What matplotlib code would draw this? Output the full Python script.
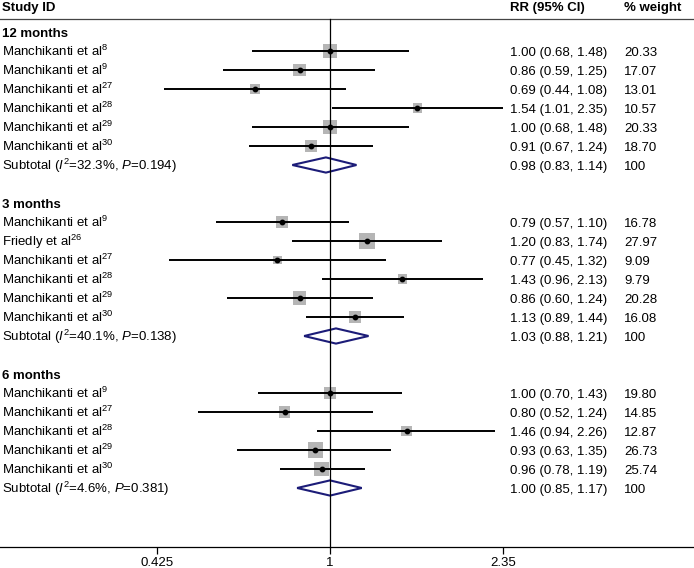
import numpy as np
import matplotlib
matplotlib.use("Agg")
import matplotlib.pyplot as plt
from matplotlib.patches import Polygon
from matplotlib.transforms import offset_copy

plt.rcParams['font.family'] = ['Liberation Sans', 'DejaVu Sans']
plt.rcParams['mathtext.fontset'] = 'custom'
plt.rcParams['mathtext.rm'] = 'Liberation Sans'
plt.rcParams['mathtext.it'] = 'Liberation Sans:italic'
plt.rcParams['mathtext.bf'] = 'Liberation Sans:bold'

# ---- data ----
groups = ["12 months", "3 months", "6 months"]

names_12 = ["Manchikanti et al"] * 6
refs_12 = ["8", "9", "27", "28", "29", "30"]
rr_12 = [1.00, 0.86, 0.69, 1.54, 1.00, 0.91]
lo_12 = [0.68, 0.59, 0.44, 1.01, 0.68, 0.67]
hi_12 = [1.48, 1.25, 1.08, 2.35, 1.48, 1.24]
w_12 = [20.33, 17.07, 13.01, 10.57, 20.33, 18.70]

names_3 = ["Manchikanti et al", "Friedly et al", "Manchikanti et al",
           "Manchikanti et al", "Manchikanti et al", "Manchikanti et al"]
refs_3 = ["9", "26", "27", "28", "29", "30"]
rr_3 = [0.79, 1.20, 0.77, 1.43, 0.86, 1.13]
lo_3 = [0.57, 0.83, 0.45, 0.96, 0.60, 0.89]
hi_3 = [1.10, 1.74, 1.32, 2.13, 1.24, 1.44]
w_3 = [16.78, 27.97, 9.09, 9.79, 20.28, 16.08]

names_6 = ["Manchikanti et al"] * 5
refs_6 = ["9", "27", "28", "29", "30"]
rr_6 = [1.00, 0.80, 1.46, 0.93, 0.96]
lo_6 = [0.70, 0.52, 0.94, 0.63, 0.78]
hi_6 = [1.43, 1.24, 2.26, 1.35, 1.19]
w_6 = [19.80, 14.85, 12.87, 26.73, 25.74]

sub_rr = [0.98, 1.03, 1.00]
sub_lo = [0.83, 0.88, 0.85]
sub_hi = [1.14, 1.21, 1.17]
sub_i2 = ["32.3", "40.1", "4.6"]
sub_p = ["0.194", "0.138", "0.381"]

xticks = [0.425, 1, 2.35]
xticklabels = ["0.425", "1", "2.35"]

study_sets = [
    (names_12, refs_12, rr_12, lo_12, hi_12, w_12),
    (names_3, refs_3, rr_3, lo_3, hi_3, w_3),
    (names_6, refs_6, rr_6, lo_6, hi_6, w_6),
]

# ---- figure ----
W, H = 694, 568
fig = plt.figure(figsize=(W / 100, H / 100), dpi=100)
ax = fig.add_axes([0, 21 / H, 1, 547 / H])
ax.set_xscale('log')
px_per_ln = 173 / np.log(1 / 0.425)
ax.set_xlim(np.exp(-330 / px_per_ln), np.exp((W - 330) / px_per_ln))
ytop = -32 / 19
ybot = (547 - 32) / 19
ax.set_ylim(ybot, ytop)

for s in ['top', 'left', 'right']:
    ax.spines[s].set_visible(False)
ax.spines['bottom'].set_linewidth(0.9)
ax.set_yticks([])
ax.set_xticks(xticks)
ax.set_xticklabels(xticklabels)
ax.xaxis.set_minor_locator(matplotlib.ticker.NullLocator())
ax.tick_params(axis='x', direction='out', length=5, width=0.9, pad=2.5, labelsize=9.5)

fs = 9.5
tr = offset_copy(ax.get_yaxis_transform(), fig=fig, x=0, y=-3.4, units='points')
x_lab = 2 / W
x_rr = 510 / W
x_w = 624 / W


def put(x, y, s, **kw):
    ax.text(x, y, s, transform=tr, fontsize=fs, va='baseline', **kw)


header_y = -0.67
text_y_head = -1.37
put(x_lab, text_y_head, "Study ID", fontweight='bold')
put(x_rr, text_y_head, "RR (95% CI)", fontweight='bold')
put(x_w, text_y_head, "% weight", fontweight='bold')
ax.axhline(header_y, color='#444444', lw=0.9)
ax.plot([1, 1], [header_y, ybot], color='black', lw=0.9, zorder=5, clip_on=False)

navy = '#1c1c78'
row = 0
for g, (names, refs, rr, lo, hi, w) in enumerate(study_sets):
    put(x_lab, row, groups[g], fontweight='bold')
    row += 1
    rows = np.arange(row, row + len(rr))
    ax.scatter(rr, rows, s=np.array(w) * 4.4, marker='s', color='#b5b5b5', zorder=2, linewidths=0)
    ax.hlines(rows, lo, hi, color='black', lw=1.4, zorder=3)
    ax.plot(rr, rows, 'o', color='black', ms=3.2, zorder=4)
    for i in range(len(rr)):
        put(x_lab, rows[i], f"{names[i]}$^{{{refs[i]}}}$")
        put(x_rr, rows[i], f"{rr[i]:.2f} ({lo[i]:.2f}, {hi[i]:.2f})")
        put(x_w, rows[i], f"{w[i]:.2f}")
    row += len(rr)
    # subtotal
    hh = 0.4
    poly = Polygon([(sub_lo[g], row), (sub_rr[g], row - hh), (sub_hi[g], row), (sub_rr[g], row + hh)],
                   closed=True, fill=False, edgecolor=navy, lw=1.5, zorder=4, joinstyle='miter')
    ax.add_patch(poly)
    put(x_lab, row, f"Subtotal ($I^2$={sub_i2[g]}%, $P$={sub_p[g]})")
    put(x_rr, row, f"{sub_rr[g]:.2f} ({sub_lo[g]:.2f}, {sub_hi[g]:.2f})")
    put(x_w, row, "100")
    row += 2

fig.savefig("out.png", dpi=100)
